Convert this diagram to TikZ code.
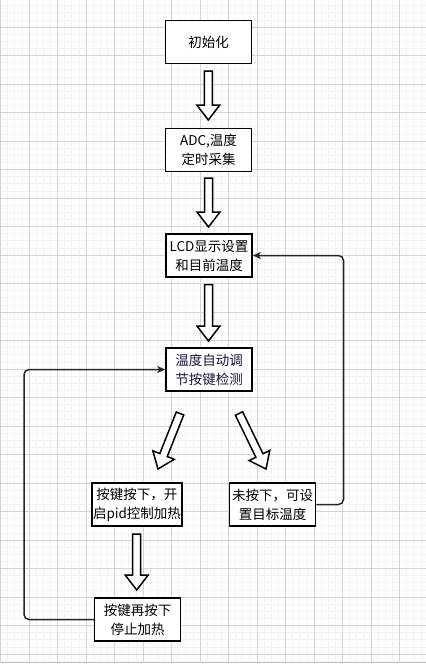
\documentclass[tikz,border=0pt]{standalone}
\usepackage{fontspec}
\setmainfont{Noto Sans CJK SC}
\usetikzlibrary{calc,arrows.meta}
\tikzset{
  minorgrid/.style={draw=black!5, line width=0.7pt},
  majorgrid/.style={draw=black!17, line width=0.9pt},
  box/.style={draw=black, line width=1.5pt, fill=white, minimum width=86pt, minimum height=43pt,
    inner sep=1pt, align=center, font=\fontsize{13.5}{19}\selectfont},
  conn/.style={draw=black!85, line width=1.5pt, rounded corners=5pt,
    -{Stealth[length=8pt,width=7pt,inset=2pt]}},
  blockarr/.style={draw=black, line width=1.5pt, fill=white, line join=miter},
}
\newcommand{\blockarrow}[2]{%
  \coordinate (hb) at ($(#2)!15pt!(#1)$);
  \draw[blockarr] ($(#1)!4pt!90:(#2)$) -- ($(hb)!4pt!-90:(#1)$) -- ($(hb)!11.5pt!-90:(#1)$)
    -- (#2) -- ($(hb)!11.5pt!90:(#1)$) -- ($(hb)!4pt!90:(#1)$) -- ($(#1)!4pt!-90:(#2)$) -- cycle;
}
\begin{document}
\begin{tikzpicture}[x=1pt,y=-1pt]
\useasboundingbox (0,0) rectangle (426,665);
\fill[white] (0,0) rectangle (426,665);
\begin{scope}
\clip (0,0) rectangle (426,662);
\foreach \i in {0,...,60} \draw[minorgrid] ({0.5+7.125*\i},0) -- ++(0,665);
\foreach \i in {0,...,94} \draw[minorgrid] (0,{-1.5+7.125*\i}) -- ++(426,0);
\foreach \i in {0,...,15} \draw[majorgrid] ({0.5+28.5*\i},0) -- ++(0,665);
\foreach \i in {0,...,24} \draw[majorgrid] (0,{-1.5+28.5*\i}) -- ++(426,0);
\end{scope}
\draw[black!25, line width=0.8pt] (0,662) -- (426,662);

\node[box] (b1) at (208.5,42) {初始化};
\node[box] (b2) at (208.5,150) {ADC,温度\\定时采集};
\node[box] (b3) at (209,255.5) {LCD显示设置\\和目前温度};
\node[box, text={rgb,255:red,20;green,25;blue,60}] (b4) at (209,369.5) {温度自动调\\节按键检测};
\node[box] (b5) at (137,504.5) {按键按下，开\\启pid控制加热};
\node[box] (b6) at (272.5,504.5) {未按下，可设\\置目标温度};
\node[box] (b7) at (137.5,619.5) {按键再按下\\停止加热};

\coordinate (a1s) at (208.3,71);  \coordinate (a1e) at (208.3,120);
\coordinate (a2s) at (208.5,178); \coordinate (a2e) at (208.5,227);
\coordinate (a3s) at (208.5,284.5); \coordinate (a3e) at (208.5,341);
\coordinate (a4s) at (180,413.5); \coordinate (a4e) at (158,469);
\coordinate (a5s) at (239,413.5); \coordinate (a5e) at (266,469);
\coordinate (a6s) at (136.7,534); \coordinate (a6e) at (136.7,590);
\blockarrow{a1s}{a1e}
\blockarrow{a2s}{a2e}
\blockarrow{a3s}{a3e}
\blockarrow{a4s}{a4e}
\blockarrow{a5s}{a5e}
\blockarrow{a6s}{a6e}

\coordinate (rx) at (343.5,0);
\coordinate (lx) at (24,0);
\draw[conn] (b6.east) -- (b6.east -| rx) |- (b3.east);
\draw[conn] (b7.west) -- (b7.west -| lx) |- (b4.west);
\end{tikzpicture}
\end{document}
